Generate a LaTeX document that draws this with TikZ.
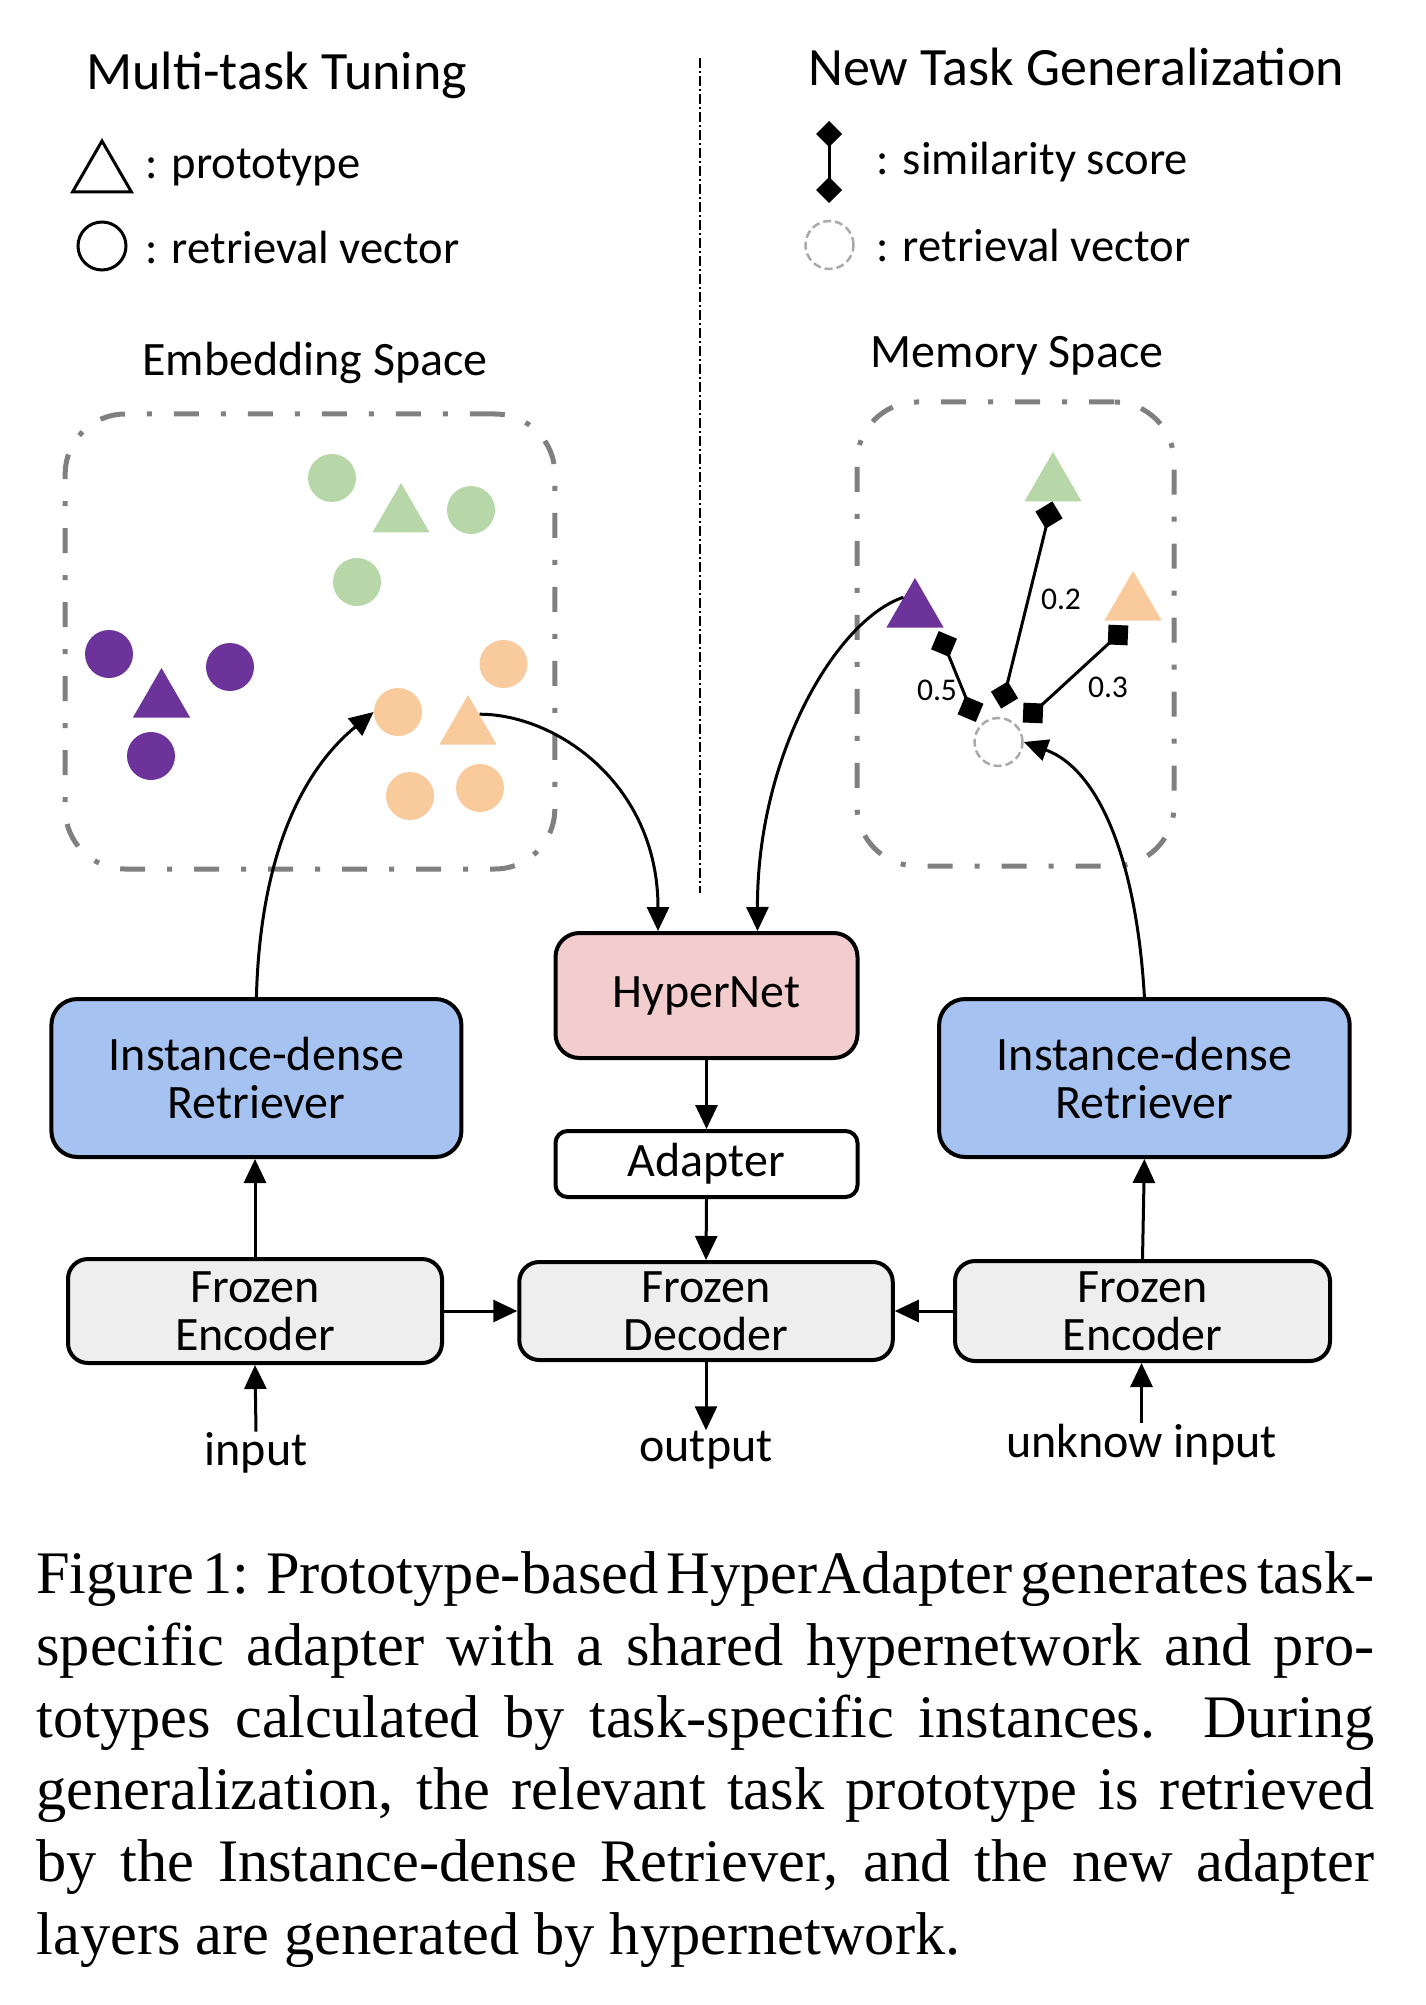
\documentclass[tikz,border=0pt]{standalone}
\usepackage{fontspec}
\setmainfont{Carlito}
\newfontfamily\capfont{Liberation Serif}
\usetikzlibrary{arrows.meta,shapes.geometric}
\definecolor{retblue}{RGB}{165,194,240}
\definecolor{hyppink}{RGB}{243,205,205}
\definecolor{frzgray}{RGB}{238,238,238}
\definecolor{ptgreen}{RGB}{183,215,168}
\definecolor{ptpurple}{RGB}{108,52,155}
\definecolor{ptorange}{RGB}{249,203,156}
\definecolor{spgray}{RGB}{128,128,128}
\definecolor{circgray}{RGB}{170,170,170}
\newcommand{\capsetup}{\capfont\fontsize{30.2}{36}\selectfont\spaceskip=0.25em plus 0.25em minus 0.15em\relax}
\begin{document}
\begin{tikzpicture}[x=0.5pt,y=-0.5pt,
  head/.style={font=\fontsize{27}{27}\selectfont, inner sep=0, anchor=base west},
  legtext/.style={font=\fontsize{23.3}{24}\selectfont, inner sep=0, anchor=base west},
  lbl/.style={font=\fontsize{24}{24}\selectfont, inner sep=0, anchor=base},
  num/.style={font=\fontsize{15.8}{16}\selectfont, inner sep=0},
  box/.style={draw=black, line width=2pt, align=center, font=\fontsize{24}{24}\selectfont, inner sep=0},
  spacebox/.style={draw=spgray, line width=2.5pt, rounded corners=30pt, dash pattern=on 12.5pt off 11pt on 2.5pt off 11pt, inner sep=0},
  dot/.style={circle, fill=#1, minimum size=24pt, inner sep=0},
  tri/.style={regular polygon, regular polygon sides=3, fill=#1, minimum size=33pt, inner sep=0},
  arr/.style={line width=1.5pt, -{Triangle[length=12pt,width=11pt]}},
  sim/.style={line width=1.5pt, {Diamond[length=#1,width=#1]}-{Diamond[length=#1,width=#1]}, shorten <=-0.5*#1, shorten >=-0.5*#1},
  sim/.default=14pt,
  divider/.style={line width=1pt, dash pattern=on 5pt off 1.5pt on 1pt off 1.5pt},
  capline/.style={font=\capsetup, inner sep=0, anchor=base west},
]
\useasboundingbox (0,0) rectangle (1425,2005);

% ---- headings and legends ----
\node[head] (h1) at (86,90) {Multi-task Tuning};
\node[head] (h2) at (808,86) {New Task Generalization};

\node[tri=white, draw=black, line width=1.5pt, minimum size=34pt] (legtri) at (102,175) {};
\node[legtext] (legproto) at (145,179) {: prototype};
\node[circle, draw=black, line width=1.5pt, minimum size=24pt, inner sep=0] (legcirc) at (102,246) {};
\node[legtext] (legret) at (145,264) {: retrieval vector};

\coordinate (lsa) at (829,134);
\coordinate (lsb) at (829,190);
\draw[sim=13pt] (lsa) -- (lsb);
\node[legtext] (legsim) at (876,175) {: similarity score};
\node[circle, draw=circgray, line width=1.25pt, dash pattern=on 4pt off 2pt, minimum size=24pt, inner sep=0] (legvc) at (829.5,245) {};
\node[legtext] (legret2) at (876,262) {: retrieval vector};

% divider
\coordinate (dv1) at (700,58);
\coordinate (dv2) at (700,893);
\draw[divider] (dv1) -- (dv2);

% ---- embedding space ----
\node[lbl] (embl) at (315,376) {Embedding Space};
\node[spacebox, minimum width=244.8pt, minimum height=227.5pt] (emb) at (310,641.5) {};
\node[dot=ptgreen] (g1) at (332,478) {};
\node[dot=ptgreen] (g2) at (471,510) {};
\node[dot=ptgreen] (g3) at (357,582) {};
\node[tri=ptgreen] (gt) at (401,516) {};
\node[dot=ptpurple] (p1) at (109,654) {};
\node[dot=ptpurple] (p2) at (230,667) {};
\node[dot=ptpurple] (p3) at (151,756) {};
\node[tri=ptpurple] (pt) at (161.5,701) {};
\node[dot=ptorange] (o1) at (503.5,664) {};
\node[dot=ptorange] (o2) at (398,712) {};
\node[dot=ptorange] (o3) at (410,796) {};
\node[dot=ptorange] (o4) at (480,788) {};
\node[tri=ptorange] (ot) at (468,728) {};

% ---- memory space ----
\node[lbl] (meml) at (1017,368) {Memory Space};
\node[spacebox, minimum width=158.5pt, minimum height=232pt] (mem) at (1015.5,634) {};
\node[tri=ptgreen] (mgt) at (1053,485) {};
\node[tri=ptorange] (mot) at (1133,604) {};
\node[tri=ptpurple] (mpt) at (915,611) {};
\node[circle, draw=circgray, line width=1.25pt, dash pattern=on 4pt off 2pt, minimum size=24pt, inner sep=0] (vc) at (998.5,742) {};
\coordinate (s1a) at (944,644);
\coordinate (s1b) at (970.5,709);
\coordinate (s2a) at (1049,515);
\coordinate (s2b) at (1004.5,695);
\coordinate (s3a) at (1118,635);
\coordinate (s3b) at (1033,713);
\draw[sim] (s1a) -- (s1b);
\draw[sim] (s2a) -- (s2b);
\draw[sim] (s3a) -- (s3b);
\node[num] (n05) at (937,690) {0.5};
\node[num] (n02) at (1061,599) {0.2};
\node[num] (n03) at (1108,687) {0.3};

% ---- boxes ----
\node[box, fill=retblue, minimum width=205pt, minimum height=79pt, rounded corners=13pt] (lret) at (256.4,1078) {Instance-dense\\Retriever};
\node[box, fill=retblue, minimum width=205.3pt, minimum height=79pt, rounded corners=13pt] (rret) at (1144.4,1078) {Instance-dense\\Retriever};
\node[box, fill=hyppink, minimum width=151pt, minimum height=62.5pt, rounded corners=12pt] (hyp) at (706.5,995.5) {HyperNet};
\node[box, fill=white, minimum width=151pt, minimum height=33pt, rounded corners=6pt] (adp) at (706.5,1164) {Adapter};
\node[box, fill=frzgray, minimum width=187pt, minimum height=52pt, rounded corners=10pt] (lenc) at (255,1311) {Frozen\\Encoder};
\node[box, fill=frzgray, minimum width=186.75pt, minimum height=49pt, rounded corners=10pt] (dec) at (706,1311) {Frozen\\Decoder};
\node[box, fill=frzgray, minimum width=187.5pt, minimum height=50pt, rounded corners=10pt] (renc) at (1142.5,1311) {Frozen\\Encoder};

\node[lbl] (inp) at (256,1465) {input};
\node[lbl] (outp) at (706,1461) {output};
\node[lbl] (uinp) at (1141.5,1457) {unknow input};

% ---- straight arrows ----
\draw[arr] (inp.north) -- (lenc.south);
\draw[arr] (lenc.north) -- (lenc.north |- lret.south);
\draw[arr] (uinp.north) -- (uinp.north |- renc.south);
\draw[arr] (renc.north) -- (rret.south);
\draw[arr] (lenc.east) -- (dec.west);
\draw[arr] (renc.west) -- (dec.east);
\draw[arr] (hyp.south) -- (adp.north);
\draw[arr] (adp.south) -- (dec.north);
\draw[arr] (dec.south) -- (outp.north -| dec.south);

% ---- curved arrows ----
\draw[arr] (lret.north) .. controls (261,825) and (321,755) .. (o2.west);
\draw[arr] (ot.50) .. controls (555,714) and (658,783) .. ([xshift=-24.25pt]hyp.north);
\draw[arr] (mpt.130) .. controls (836,620) and (757,755) .. ([xshift=25.5pt]hyp.north);
\draw[arr] (rret.north) .. controls (1136,853) and (1096,768) .. (vc.east);

% ---- caption ----
\node[capline] (c1) at (36,1593) {\makebox[669pt][s]{Figure 1: Prototype-based HyperAdapter generates task-}};
\node[capline] (c2) at (36,1665.2) {\makebox[669pt][s]{specific adapter with a shared hypernetwork and pro-}};
\node[capline] (c3) at (36,1737.4) {\makebox[669pt][s]{totypes calculated by task-specific instances.  During}};
\node[capline] (c4) at (36,1809.6) {\makebox[669pt][s]{generalization, the relevant task prototype is retrieved}};
\node[capline] (c5) at (36,1881.8) {\makebox[669pt][s]{by the Instance-dense Retriever, and the new adapter}};
\node[capline] (c6) at (36,1954) {layers are generated by hypernetwork.};
\end{tikzpicture}
\end{document}
